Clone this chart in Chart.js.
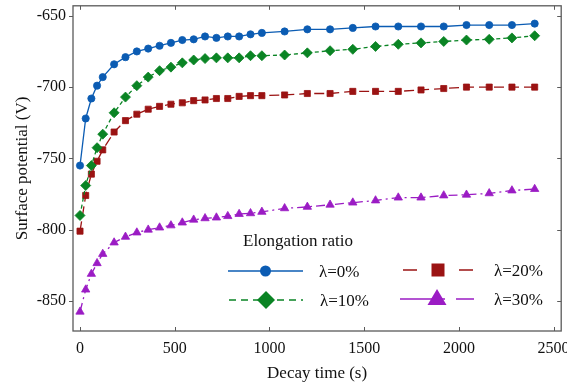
<!DOCTYPE html>
<html lang="en">
<head>
    <meta charset="UTF-8">
    <title>Surface potential decay</title>
    <script src="https://cdn.jsdelivr.net/npm/chart.js"></script>
    <style>
        body {
            margin: 0;
            background-color: white;
        }
        .chart-box {
            width: 567px;
            height: 387px;
        }
    </style>
</head>
<body>
    <div class="chart-box">
        <canvas id="decayChart" width="567" height="387"></canvas>
    </div>

    <script>
        // Data
        const decayTime = [0, 30, 60, 90, 120, 180, 240, 300, 360, 420, 480, 540, 600, 660, 720, 780, 840, 900, 960,
            1080, 1200, 1320, 1440, 1560, 1680, 1800, 1920, 2040, 2160, 2280, 2400];
        const lambda0 = [-755, -722, -708, -699, -693, -684, -679, -675, -673, -671, -669, -667, -666.5, -664.5, -665.5, -664.5,
            -664.5, -663, -662, -661, -659.5, -659.5, -658.5, -657.5, -657.5, -657.5, -657.5, -656.5, -656.5, -656.5, -655.5];
        const lambda10 = [-790, -769, -755, -742.5, -733, -718, -707, -699, -693, -688.5, -686, -683, -681, -680, -679.5, -679.5,
            -679.5, -678, -678, -677.5, -676, -674.5, -673.5, -671.5, -670, -669, -668, -667, -666.5, -665.5, -664];
        const lambda20 = [-801, -776, -761, -752, -744, -731.5, -723.5, -719, -715.5, -713.5, -712, -711, -709.5, -709, -708, -708,
            -706.5, -706, -706, -705.5, -704.5, -704.5, -703, -703, -703, -702, -701, -700, -700, -700, -700];
        const lambda30 = [-857.5, -842, -831, -823.5, -817, -809, -805, -802, -800, -798.5, -797, -795, -793, -792, -791.5, -790.5,
            -789, -788.5, -787.5, -785, -784, -782.5, -781, -779.5, -777.5, -777.5, -776, -775.5, -774.5, -772.5, -771.5];
        const seriesLabels = ['λ=0%', 'λ=10%', 'λ=20%', 'λ=30%'];
        const xTicks = [0, 500, 1000, 1500, 2000, 2500];
        const yTicks = [-850, -800, -750, -700, -650];

        const FONT = "'Liberation Serif', 'Times New Roman', serif";
        const AXIS = '#5a5a5a';

        const styles = [
            { color: '#0b5cb3', point: 'circle', radius: 3.6, dash: [], legDash: [] },
            { color: '#0a8424', point: 'rectRot', radius: 5, dash: [4, 3], legDash: [7, 5] },
            { color: '#9b1313', point: 'rect', radius: 4.3, dash: [10, 5], legDash: [14, 8] },
            { color: '#9b1cc4', point: 'triangle', radius: 4.8, dash: [9, 4, 2, 4], legDash: [] }
        ];
        const values = [lambda0, lambda10, lambda20, lambda30];

        const datasets = values.map((vals, i) => ({
            label: seriesLabels[i],
            data: decayTime.map((t, j) => ({ x: t, y: vals[j] })),
            borderColor: styles[i].color,
            backgroundColor: styles[i].color,
            borderWidth: 1.3,
            borderDash: styles[i].dash,
            pointStyle: styles[i].point,
            pointRadius: styles[i].radius,
            pointBorderWidth: 0.8,
            tension: 0
        }));

        // frame and inward tick marks
        const framePlugin = {
            id: 'frame',
            afterDraw(chart) {
                const ctx = chart.ctx;
                const a = chart.chartArea;
                const xs = chart.scales.x, ys = chart.scales.y;
                ctx.save();
                ctx.strokeStyle = AXIS;
                ctx.lineWidth = 1.3;
                ctx.strokeRect(a.left, a.top, a.right - a.left, a.bottom - a.top);
                ctx.lineWidth = 1;
                ctx.beginPath();
                xTicks.forEach(v => {
                    const px = Math.round(xs.getPixelForValue(v)) + 0.5;
                    ctx.moveTo(px, a.bottom); ctx.lineTo(px, a.bottom - 4);
                    ctx.moveTo(px, a.top); ctx.lineTo(px, a.top + 4);
                });
                yTicks.forEach(v => {
                    const py = Math.round(ys.getPixelForValue(v)) + 0.5;
                    ctx.moveTo(a.left, py); ctx.lineTo(a.left - 4, py);
                    ctx.moveTo(a.right, py); ctx.lineTo(a.right - 4, py);
                });
                ctx.stroke();
                ctx.restore();
            }
        };

        function drawMarker(ctx, type, x, y, r) {
            ctx.beginPath();
            if (type === 'circle') {
                ctx.arc(x, y, r, 0, Math.PI * 2);
            } else if (type === 'rectRot') {
                ctx.moveTo(x, y - r); ctx.lineTo(x + r, y); ctx.lineTo(x, y + r); ctx.lineTo(x - r, y);
                ctx.closePath();
            } else if (type === 'rect') {
                ctx.rect(x - r, y - r, 2 * r, 2 * r);
            } else {
                ctx.moveTo(x, y - r); ctx.lineTo(x + r * 0.95, y + r * 0.6); ctx.lineTo(x - r * 0.95, y + r * 0.6);
                ctx.closePath();
            }
            ctx.fill();
        }

        // legend box inside the plot
        const legendPlugin = {
            id: 'boxLegend',
            afterDraw(chart) {
                const ctx = chart.ctx;
                ctx.save();
                ctx.fillStyle = '#111';
                ctx.font = '17px ' + FONT;
                ctx.textBaseline = 'middle';
                ctx.textAlign = 'left';
                ctx.fillText('Elongation ratio', 243, 242);

                const slots = [
                    { x0: 228, x1: 303, y: 271, tx: 319, mr: 5.5 },
                    { x0: 229, x1: 303, y: 300, tx: 320, mr: 9 },
                    { x0: 403, x1: 473, y: 270, tx: 494, mr: 6.5 },
                    { x0: 400, x1: 474, y: 299, tx: 494, mr: 10 }
                ];
                slots.forEach((s, i) => {
                    const st = styles[i];
                    const mx = (s.x0 + s.x1) / 2;
                    ctx.strokeStyle = st.color;
                    ctx.fillStyle = st.color;
                    ctx.lineWidth = 1.6;
                    ctx.setLineDash(st.legDash);
                    ctx.beginPath();
                    if (i === 3) {
                        ctx.moveTo(s.x0, s.y); ctx.lineTo(mx + 8, s.y);
                        ctx.moveTo(mx + 19, s.y); ctx.lineTo(s.x1, s.y);
                    } else if (i === 2) {
                        ctx.moveTo(s.x0, s.y); ctx.lineTo(s.x0 + 14, s.y);
                        ctx.moveTo(mx - 5, s.y); ctx.lineTo(mx, s.y);
                        ctx.moveTo(s.x1 - 14, s.y); ctx.lineTo(s.x1, s.y);
                    } else {
                        ctx.moveTo(s.x0, s.y); ctx.lineTo(s.x1, s.y);
                    }
                    ctx.stroke();
                    ctx.setLineDash([]);
                    drawMarker(ctx, st.point, mx, s.y, s.mr);
                    ctx.fillStyle = '#111';
                    ctx.font = '17px ' + FONT;
                    ctx.fillText(seriesLabels[i], s.tx, s.y + 2);
                });
                ctx.restore();
            }
        };

        new Chart(document.getElementById('decayChart'), {
            type: 'line',
            data: { datasets: datasets },
            plugins: [framePlugin, legendPlugin],
            options: {
                responsive: false,
                animation: false,
                layout: { padding: { top: 5, right: 1, left: 0, bottom: 0 } },
                plugins: {
                    legend: { display: false },
                    tooltip: { enabled: false }
                },
                scales: {
                    x: {
                        type: 'linear',
                        min: -37,
                        max: 2540,
                        grid: { display: false, drawTicks: false },
                        border: { display: false },
                        afterBuildTicks: s => { s.ticks = xTicks.map(v => ({ value: v })); },
                        afterFit: s => { s.height = 56; s.paddingLeft = 0; s.paddingRight = 0; },
                        ticks: {
                            color: '#111',
                            padding: 8,
                            maxRotation: 0,
                            font: { family: FONT, size: 16 },
                            callback: v => String(v)
                        },
                        title: {
                            display: true,
                            text: 'Decay time (s)',
                            color: '#111',
                            font: { family: FONT, size: 17 },
                            padding: { top: 0, bottom: 3 }
                        }
                    },
                    y: {
                        type: 'linear',
                        min: -871,
                        max: -643,
                        grid: { display: false, drawTicks: false },
                        border: { display: false },
                        afterBuildTicks: s => { s.ticks = yTicks.map(v => ({ value: v })); },
                        afterFit: s => { s.width = 73; s.paddingTop = 0; s.paddingBottom = 0; },
                        ticks: {
                            color: '#111',
                            padding: 7,
                            font: { family: FONT, size: 16 },
                            callback: v => String(v)
                        },
                        title: {
                            display: true,
                            text: 'Surface potential (V)',
                            color: '#111',
                            font: { family: FONT, size: 17 },
                            padding: { top: 12, bottom: 0 }
                        }
                    }
                }
            }
        });
    </script>
</body>
</html>
